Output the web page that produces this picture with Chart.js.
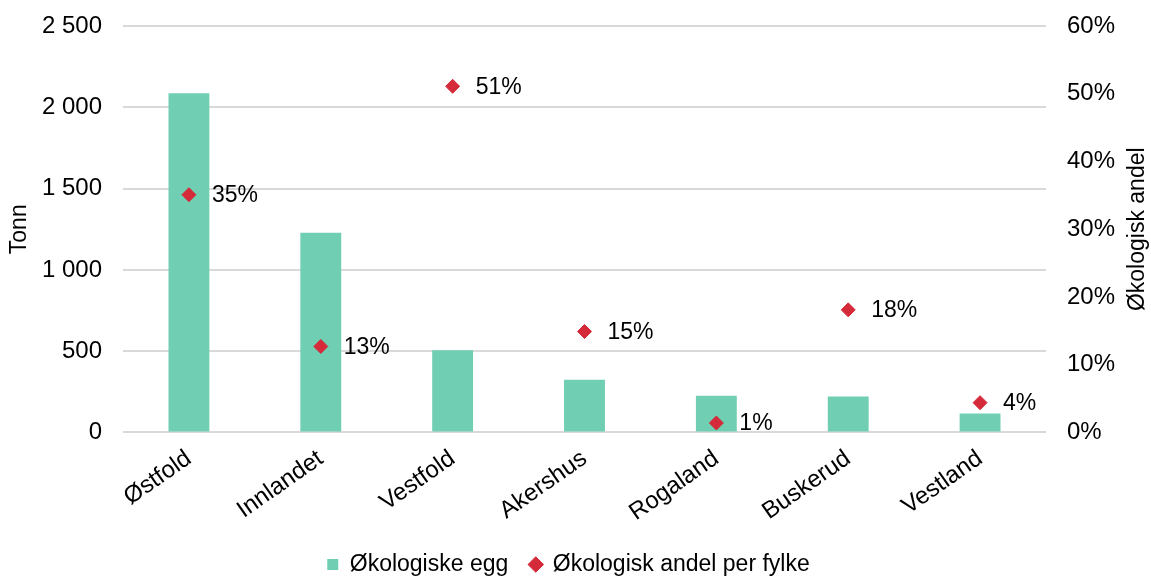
<!DOCTYPE html>
<html>
<head>
<meta charset="utf-8">
<script src="https://cdn.jsdelivr.net/npm/chart.js@4"></script>
<style>
  html, body { margin: 0; padding: 0; background: #fff; }
  #wrap { width: 1151px; height: 579px; }
</style>
</head>
<body>
<div id="wrap"><canvas id="chart" width="1151" height="579"></canvas></div>
<script>
// data
const fylker = ['Østfold', 'Innlandet', 'Vestfold', 'Akershus', 'Rogaland', 'Buskerud', 'Vestland'];
const eggTonn = [2086, 1228, 506, 325, 226, 222, 117];
const andelProsent = [35.1, 12.7, 51.1, 14.9, 1.4, 18.1, 4.4];
const venstreTicks = [0, 500, 1000, 1500, 2000, 2500];
const hoyreTicks = [0, 10, 20, 30, 40, 50, 60];

const tekstFarge = '#000000';
const gridFarge = '#d9d9d9';
const font = 'Liberation Sans, Arial, sans-serif';
const hoyreTittel = 'Økologisk andel';

function tusen(v) {
    return String(v).replace(/\B(?=(\d{3})+(?!\d))/g, ' ');
}

// skriver prosent-etiketten til høyre for hvert punkt + høyre aksetittel
const etiketter = {
    id: 'etiketter',
    afterDatasetsDraw(chart) {
        const ctx = chart.ctx;
        const meta = chart.getDatasetMeta(1);
        ctx.save();
        ctx.font = '23px ' + font;
        ctx.fillStyle = tekstFarge;
        ctx.textAlign = 'left';
        ctx.textBaseline = 'middle';
        meta.data.forEach((pt, i) => {
            ctx.fillText(Math.round(andelProsent[i]) + '%', pt.x + 23, pt.y + 1);
        });
        ctx.restore();
    },
    afterDraw(chart) {
        const ctx = chart.ctx;
        const area = chart.chartArea;
        ctx.save();
        ctx.font = '23px ' + font;
        ctx.fillStyle = tekstFarge;
        ctx.textAlign = 'center';
        ctx.textBaseline = 'middle';
        ctx.translate(1138, (area.top + area.bottom) / 2);
        ctx.rotate(-Math.PI / 2);
        ctx.fillText(hoyreTittel, 0, 0);
        ctx.restore();
    }
};

Chart.defaults.font.family = font;
Chart.defaults.color = tekstFarge;

new Chart(document.getElementById('chart').getContext('2d'), {
    type: 'bar',
    data: {
        labels: fylker,
        datasets: [{
            label: 'Økologiske egg',
            data: eggTonn,
            backgroundColor: '#70cfb3',
            categoryPercentage: 1,
            barPercentage: 0.31,
            yAxisID: 'y',
            pointStyle: 'rect',
            order: 2
        }, {
            type: 'line',
            label: 'Økologisk andel per fylke',
            data: andelProsent,
            showLine: false,
            pointStyle: 'rectRot',
            pointRadius: 7,
            pointBackgroundColor: '#d42a3a',
            pointBorderColor: '#d42a3a',
            backgroundColor: '#d42a3a',
            borderColor: '#d42a3a',
            yAxisID: 'y1',
            order: 1
        }]
    },
    options: {
        responsive: false,
        animation: false,
        layout: { padding: { top: 0, right: 14, left: 0, bottom: -7 } },
        plugins: {
            legend: {
                position: 'bottom',
                labels: {
                    usePointStyle: true,
                    boxWidth: 11,
                    boxHeight: 11,
                    padding: 22,
                    font: { size: 23 },
                    color: tekstFarge,
                    sort: (a, b) => a.datasetIndex - b.datasetIndex
                }
            },
            tooltip: { enabled: false }
        },
        scales: {
            x: {
                grid: { display: false },
                border: { display: false },
                ticks: {
                    font: { size: 24 },
                    maxRotation: 35,
                    minRotation: 35,
                    padding: 4
                }
            },
            y: {
                position: 'left',
                min: 0,
                max: 2500,
                afterBuildTicks(axis) { axis.ticks = venstreTicks.map(v => ({ value: v })); },
                afterFit(axis) { axis.width = 123; axis.paddingTop = 26; axis.paddingBottom = 0; },
                grid: { color: gridFarge, lineWidth: 2, drawTicks: false },
                border: { display: false },
                ticks: {
                    font: { size: 24 },
                    padding: 21,
                    callback: v => tusen(v)
                },
                title: { display: true, text: 'Tonn', font: { size: 23 }, padding: { top: 6, bottom: 7 } }
            },
            y1: {
                position: 'right',
                min: 0,
                max: 60,
                afterBuildTicks(axis) { axis.ticks = hoyreTicks.map(v => ({ value: v })); },
                afterFit(axis) { axis.width = 91; axis.paddingTop = 26; axis.paddingBottom = 0; },
                grid: { display: false, drawTicks: false },
                border: { display: false },
                ticks: {
                    font: { size: 24 },
                    padding: 21,
                    callback: v => v + '%'
                }
            }
        }
    },
    plugins: [etiketter]
});
</script>
</body>
</html>
